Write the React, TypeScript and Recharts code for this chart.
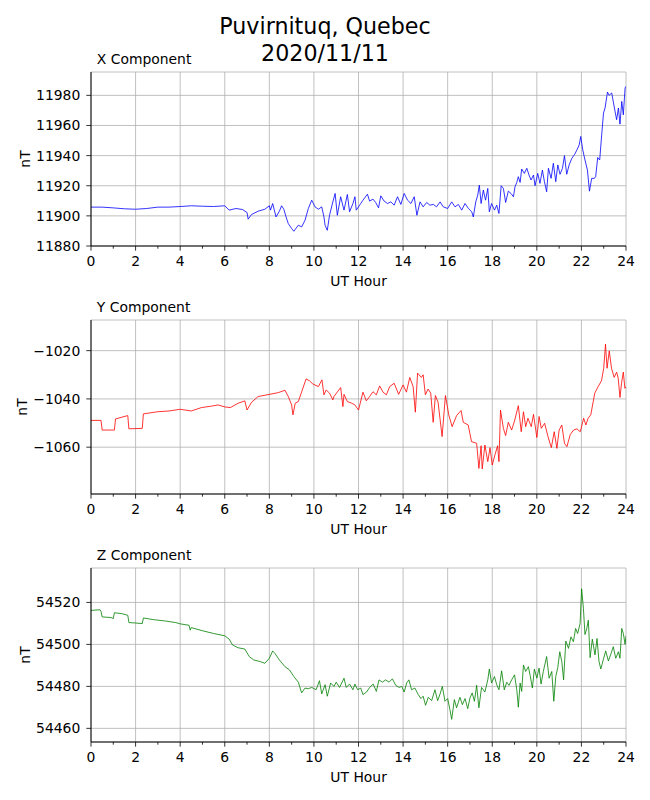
import { LineChart, Line, XAxis, YAxis, CartesianGrid } from 'recharts';

// Magnetometer readings, Puvirnituq 2020/11/11 (hour -> nT)
const xHours = [
  0, 0.5, 1, 1.5, 2, 2.5, 3, 3.5, 4, 4.5, 5, 5.5, 6, 6.2, 6.5, 6.8, 7, 7.05, 7.2, 7.5,
  7.8, 8, 8.05, 8.15, 8.3, 8.45, 8.55, 8.65, 8.75, 8.85, 9, 9.1, 9.3, 9.45, 9.6, 9.75, 9.9, 10.05, 10.2, 10.35,
  10.45, 10.5, 10.6, 10.7, 10.85, 10.95, 11.05, 11.2, 11.35, 11.5, 11.6, 11.75, 11.84, 11.9, 12.1, 12.2, 12.4, 12.5, 12.65, 12.77,
  12.9, 13, 13.15, 13.3, 13.45, 13.6, 13.75, 13.9, 14.05, 14.2, 14.35, 14.5, 14.62, 14.76, 14.9, 15.06, 15.2, 15.36, 15.5, 15.66,
  15.8, 16, 16.18, 16.33, 16.48, 16.63, 16.78, 16.93, 17.08, 17.15, 17.26, 17.35, 17.42, 17.5, 17.6, 17.7, 17.8, 17.87, 17.97, 18.1,
  18.2, 18.3, 18.4, 18.5, 18.6, 18.72, 18.84, 18.95, 19.02, 19.1, 19.17, 19.25, 19.32, 19.44, 19.55, 19.65, 19.74, 19.85, 19.92, 20.04,
  20.14, 20.25, 20.34, 20.44, 20.52, 20.64, 20.74, 20.85, 20.94, 21.04, 21.15, 21.24, 21.34, 21.45, 21.57, 21.7, 21.8, 21.9, 21.97, 22.06,
  22.16, 22.27, 22.36, 22.46, 22.58, 22.64, 22.73, 22.82, 22.91, 22.99, 23.06, 23.17, 23.24, 23.36, 23.48, 23.58, 23.66, 23.73, 23.81, 23.88,
  23.96, 24,
];
const xValues = [
  11905.8, 11905.8, 11905.3, 11904.7, 11904.4, 11904.9, 11905.8, 11905.8, 11906.2, 11906.7, 11906.4, 11906.2, 11906.7, 11903.8, 11904.9, 11904.2, 11902.2, 11897.8, 11900.9, 11903.1,
  11904.4, 11906.7, 11903.8, 11908.2, 11899.3, 11903.1, 11906.7, 11904.4, 11899.3, 11894.9, 11891.6, 11889.8, 11893.8, 11892.7, 11897.1, 11904.9, 11910.4, 11906, 11904.4, 11906,
  11899.3, 11893.8, 11890.4, 11900.4, 11909.3, 11914.9, 11900.4, 11912.7, 11903.8, 11914.2, 11902.7, 11908.2, 11912.7, 11903.8, 11908.2, 11910.4, 11914.4, 11909.8, 11911.1, 11908.9,
  11905.3, 11913.3, 11909.8, 11908.2, 11909.3, 11907.1, 11912.7, 11907.6, 11914.9, 11910.4, 11908.2, 11912.7, 11900.4, 11909.3, 11906, 11908.9, 11907.1, 11907.6, 11906, 11909.3,
  11906, 11904.9, 11909.3, 11906, 11907.6, 11903.8, 11908.2, 11904.9, 11902.7, 11899.3, 11909.3, 11913.8, 11920.4, 11908.2, 11917.1, 11910.4, 11918.2, 11902.7, 11908.2, 11903.8,
  11907.1, 11901.6, 11920, 11918.2, 11908.9, 11916.4, 11914.9, 11912.7, 11919.3, 11922.2, 11926, 11922.2, 11931.1, 11928.2, 11931.6, 11927.1, 11923.8, 11927.1, 11920, 11928.2,
  11921.6, 11930.4, 11922.7, 11916, 11931.6, 11924.9, 11934.9, 11922.7, 11933.8, 11927.6, 11931.6, 11940, 11927.6, 11933.8, 11938.2, 11940.9, 11943.8, 11947.1, 11952.7, 11943.8,
  11937.1, 11930.4, 11916.4, 11924.9, 11924.9, 11926, 11938.7, 11937.1, 11953.8, 11968.2, 11971.6, 11982.2, 11980, 11981.6, 11971.6, 11963.8, 11971.6, 11960.9, 11976, 11967.1,
  11984.9, 11986,
];

const yHours = [
  0, 0.45, 0.5, 1.05, 1.1, 1.65, 1.7, 2.3, 2.35, 3, 3.5, 4, 4.5, 4.95, 5.4, 5.7, 6, 6.25, 6.6, 6.9,
  7, 7.2, 7.5, 7.9, 8.4, 8.7, 8.85, 9, 9.06, 9.16, 9.3, 9.43, 9.65, 9.8, 9.95, 10.2, 10.36, 10.45, 10.55, 10.7,
  10.85, 10.9, 11.15, 11.2, 11.3, 11.35, 11.5, 11.7, 11.84, 12, 12.2, 12.35, 12.5, 12.65, 12.8, 12.95, 13.1, 13.25, 13.4, 13.6,
  13.8, 14, 14.15, 14.3, 14.45, 14.55, 14.65, 14.82, 14.9, 15, 15.12, 15.24, 15.35, 15.45, 15.57, 15.75, 15.9, 16.05, 16.2, 16.4,
  16.6, 16.7, 16.92, 17.07, 17.3, 17.4, 17.5, 17.55, 17.67, 17.8, 17.9, 18, 18.12, 18.24, 18.3, 18.37, 18.5, 18.6, 18.72, 18.87,
  19, 19.17, 19.3, 19.4, 19.5, 19.6, 19.75, 19.85, 20, 20.1, 20.2, 20.35, 20.5, 20.65, 20.78, 20.9, 21, 21.12, 21.24, 21.35,
  21.5, 21.65, 21.8, 21.95, 22.1, 22.2, 22.3, 22.42, 22.53, 22.6, 22.75, 22.9, 23, 23.08, 23.15, 23.25, 23.35, 23.47, 23.58, 23.65,
  23.73, 23.8, 23.88, 23.95, 24,
];
const yValues = [
  -1048.9, -1048.9, -1052.9, -1052.9, -1048.3, -1046.9, -1052.4, -1052.2, -1046.2, -1045.3, -1045, -1044.3, -1045, -1043.6, -1043, -1042.5, -1043.3, -1043.6, -1041.8, -1040.8,
  -1044.6, -1041.4, -1039, -1038.3, -1037.4, -1036.4, -1039, -1042.5, -1046.6, -1041.8, -1041.1, -1037.6, -1031.7, -1032.5, -1033.8, -1034.9, -1032.1, -1038.3, -1036.3, -1037.6,
  -1040.4, -1039, -1035.9, -1035.3, -1043.2, -1038.1, -1041.1, -1041.8, -1042.5, -1044.6, -1037.2, -1040.8, -1039, -1037, -1038.3, -1034.6, -1037.2, -1038.3, -1034.9, -1033.5,
  -1038.1, -1034.2, -1037.2, -1031.1, -1034.9, -1045.5, -1029.3, -1031.1, -1030, -1038.3, -1035.9, -1037.6, -1049.7, -1038.6, -1041.4, -1055.6, -1038.6, -1046.6, -1051.5, -1046.9,
  -1044.8, -1049.7, -1050.8, -1057.7, -1058.4, -1068.8, -1059.4, -1069, -1059.1, -1066, -1060.2, -1067.4, -1063.2, -1059.4, -1066, -1044.6, -1052.2, -1055.2, -1049.7, -1052.9,
  -1049.1, -1042.8, -1053.6, -1045.3, -1051.5, -1048, -1051.5, -1046.4, -1056, -1047.3, -1052.2, -1050.1, -1055.6, -1060.2, -1053.6, -1060.5, -1052.9, -1050.8, -1058.4, -1059.8,
  -1054.7, -1052.9, -1052.4, -1053.6, -1048, -1050.8, -1048, -1046.6, -1041.1, -1037.6, -1034.9, -1032.5, -1027.3, -1017.3, -1027.3, -1020.1, -1027.3, -1031.1, -1028.9, -1031.4,
  -1039.4, -1033.5, -1028.9, -1035.6, -1034.9,
];

const zHours = [
  0, 0.4, 0.45, 0.5, 0.9, 1, 1.05, 1.4, 1.65, 1.7, 2, 2.3, 2.35, 2.8, 3.3, 3.8, 4, 4.4, 4.45, 4.5,
  5, 5.5, 6, 6.2, 6.35, 6.6, 6.9, 7.1, 7.3, 7.6, 7.8, 8, 8.15, 8.25, 8.45, 8.7, 8.9, 9.1, 9.3, 9.45,
  9.6, 9.75, 9.9, 10.1, 10.25, 10.35, 10.5, 10.6, 10.75, 10.9, 11, 11.15, 11.35, 11.45, 11.6, 11.75, 11.84, 11.96, 12.1, 12.2,
  12.36, 12.5, 12.66, 12.8, 12.92, 13.07, 13.22, 13.37, 13.52, 13.67, 13.82, 13.94, 14.05, 14.16, 14.26, 14.38, 14.53, 14.68, 14.8, 14.9,
  15.01, 15.13, 15.28, 15.43, 15.55, 15.66, 15.76, 15.88, 16, 16.1, 16.18, 16.3, 16.4, 16.55, 16.66, 16.78, 16.9, 17, 17.1, 17.2,
  17.3, 17.4, 17.52, 17.67, 17.8, 17.87, 17.97, 18.1, 18.2, 18.3, 18.42, 18.54, 18.65, 18.75, 18.87, 19, 19.1, 19.17, 19.25, 19.32,
  19.4, 19.5, 19.62, 19.7, 19.8, 19.89, 20, 20.1, 20.19, 20.29, 20.44, 20.55, 20.67, 20.76, 20.85, 20.94, 21.03, 21.12, 21.2, 21.3,
  21.42, 21.53, 21.64, 21.74, 21.83, 21.94, 22.01, 22.09, 22.16, 22.24, 22.31, 22.39, 22.49, 22.61, 22.7, 22.79, 22.87, 22.99, 23.09, 23.21,
  23.33, 23.43, 23.54, 23.66, 23.73, 23.81, 23.88, 23.96, 24,
];
const zValues = [
  54516.2, 54516.5, 54515.7, 54513.1, 54512.8, 54512.3, 54515.1, 54514.6, 54513.9, 54510.4, 54510.2, 54509.9, 54512.6, 54511.8, 54511.2, 54510.4, 54509.8, 54509.1, 54506.8, 54508,
  54506.5, 54505.2, 54504.1, 54502.5, 54499.7, 54498.4, 54497.8, 54494.2, 54492.6, 54491.8, 54491, 54493.4, 54496.9, 54495.7, 54492.6, 54489.4, 54487.9, 54484.7, 54482, 54476.9,
  54479.2, 54478.9, 54479.5, 54478.4, 54482.7, 54476.4, 54480.8, 54475.3, 54481.6, 54480, 54482, 54479.5, 54483.9, 54479.5, 54481.1, 54478.4, 54481.1, 54478.4, 54479.2, 54476.1,
  54477.3, 54479.5, 54481.1, 54477.6, 54483.1, 54482, 54483.1, 54482, 54483.6, 54480.5, 54479.5, 54480, 54477.3, 54481.6, 54483.1, 54478.4, 54479.2, 54476.1, 54474.2, 54475.3,
  54471, 54474.8, 54473.2, 54478.4, 54473.2, 54476.4, 54480, 54472.9, 54474.2, 54469, 54464.3, 54473.7, 54469.8, 54474.8, 54471.3, 54474.2, 54469.4, 54474.5, 54476.9, 54472.9,
  54480.5, 54469.8, 54479.5, 54477.3, 54483.1, 54488.3, 54481.6, 54484.7, 54480.8, 54478.4, 54487.4, 54478.4, 54482, 54480.5, 54483.1, 54485.5, 54478.4, 54470.1, 54481.6, 54477.6,
  54490.2, 54487.1, 54489.4, 54485.2, 54479.2, 54488.3, 54483.9, 54488.7, 54481.1, 54487.1, 54494.2, 54483.9, 54487.1, 54472.9, 54484.7, 54489, 54496.5, 54491.8, 54483.1, 54501.6,
  54498.1, 54503.6, 54501.3, 54507.6, 54505.2, 54509.9, 54526.5, 54517, 54504.7, 54507.6, 54511.5, 54493.7, 54502.5, 54495, 54502.8, 54491.8, 54488.3, 54493.1, 54496.9, 54492.1,
  54495.7, 54498.9, 54493.4, 54496.5, 54493.4, 54507.6, 54505.2, 54500, 54504.1,
];

const hourTicks = Array.from({ length: 25 }, (_, i) => i);
const evenHours = hourTicks.filter((h) => h % 2 === 0);
const xTicks = [11880, 11900, 11920, 11940, 11960, 11980];
const yTicks = [-1060, -1040, -1020];
const zTicks = [54460, 54480, 54500, 54520];

const FONT = '"DejaVu Sans", sans-serif';
const TICK_FS = 13.9;

// matplotlib-like tick: major every 2 h with label, minor every hour
function HourTick(props: any) {
  const { x, y, payload } = props;
  const major = payload.value % 2 === 0;
  return (
    <g>
      <line x1={x} x2={x} y1={y} y2={y + (major ? 4.7 : 2.7)} stroke="#000" strokeWidth={0.8} />
      {major && (
        <text x={x} y={y + 20} textAnchor="middle" fontSize={TICK_FS} fontFamily={FONT} fill="#000">
          {payload.value}
        </text>
      )}
    </g>
  );
}

const fmtMinus = (v: number) => (v < 0 ? '\u2212' + Math.abs(v) : String(v));

interface PanelProps {
  hours: number[];
  values: number[];
  color: string;
  domain: [number, number];
  ticks: number[];
  top: number;
}

function Panel({ hours, values, color, domain, ticks, top }: PanelProps) {
  const data = hours.map((h, i) => ({ hour: h, value: values[i] }));
  return (
    <div style={{ position: 'absolute', left: 0, top: top - 10 }}>
      <LineChart width={650} height={234} data={data} margin={{ top: 10, right: 24, bottom: 0, left: 0 }}>
        <CartesianGrid stroke="#b0b0b0" strokeWidth={0.8} verticalValues={evenHours} />
        <XAxis
          dataKey="hour"
          type="number"
          domain={[0, 24]}
          ticks={hourTicks}
          interval={0}
          tickLine={false}
          tickSize={0}
          tickMargin={0}
          tick={<HourTick />}
          axisLine={{ stroke: '#000', strokeWidth: 1 }}
          height={50}
          allowDataOverflow
        />
        <XAxis
          xAxisId="top"
          orientation="top"
          type="number"
          domain={[0, 24]}
          tick={false}
          tickLine={false}
          height={0}
          axisLine={{ stroke: '#000', strokeWidth: 1 }}
        />
        <YAxis
          type="number"
          domain={domain}
          ticks={ticks}
          interval={0}
          allowDataOverflow
          width={91}
          tickSize={4.7}
          tickMargin={6}
          tickFormatter={fmtMinus}
          tick={{ fontSize: TICK_FS, fill: '#000', fontFamily: FONT }}
          tickLine={{ stroke: '#000', strokeWidth: 0.8 }}
          axisLine={{ stroke: '#000', strokeWidth: 1 }}
        />
        <YAxis
          yAxisId="right"
          orientation="right"
          width={0}
          tick={false}
          tickLine={false}
          axisLine={{ stroke: '#000', strokeWidth: 1 }}
        />
        <Line
          type="linear"
          dataKey="value"
          stroke={color}
          strokeWidth={0.8}
          dot={false}
          activeDot={false}
          isAnimationActive={false}
        />
      </LineChart>
    </div>
  );
}

const panels = [
  { title: 'X Component', hours: xHours, values: xValues, color: '#0000ff', domain: [11880, 11995.5] as [number, number], ticks: xTicks, top: 72, ylabelX: 30 },
  { title: 'Y Component', hours: yHours, values: yValues, color: '#ff0000', domain: [-1079.4, -1007.3] as [number, number], ticks: yTicks, top: 320, ylabelX: 27 },
  { title: 'Z Component', hours: zHours, values: zValues, color: '#008000', domain: [54453.5, 54536.4] as [number, number], ticks: zTicks, top: 568, ylabelX: 30 },
];

export default function App() {
  return (
    <div style={{ position: 'absolute', left: 0, top: 0, width: 650, height: 800, background: '#fff', fontFamily: FONT }}>
      {panels.map((p) => (
        <Panel key={p.title} hours={p.hours} values={p.values} color={p.color} domain={p.domain} ticks={p.ticks} top={p.top} />
      ))}
      <svg width={650} height={800} style={{ position: 'absolute', left: 0, top: 0, pointerEvents: 'none' }} fontFamily={FONT}>
        <text x={325} y={34.3} textAnchor="middle" fontSize={22.2} fill="#000">Puvirnituq, Quebec</text>
        <text x={325} y={61.3} textAnchor="middle" fontSize={22.2} fill="#000">2020/11/11</text>
        {panels.map((p) => (
          <g key={p.title}>
            <text x={96.8} y={p.top - 8.3} fontSize={TICK_FS} fill="#000">{p.title}</text>
            <text
              x={p.ylabelX}
              y={p.top + 87}
              textAnchor="middle"
              fontSize={TICK_FS}
              fill="#000"
              transform={`rotate(-90 ${p.ylabelX} ${p.top + 87})`}
            >
              nT
            </text>
            <text x={358.6} y={p.top + 174 + 39.7} textAnchor="middle" fontSize={TICK_FS} fill="#000">UT Hour</text>
          </g>
        ))}
      </svg>
    </div>
  );
}
